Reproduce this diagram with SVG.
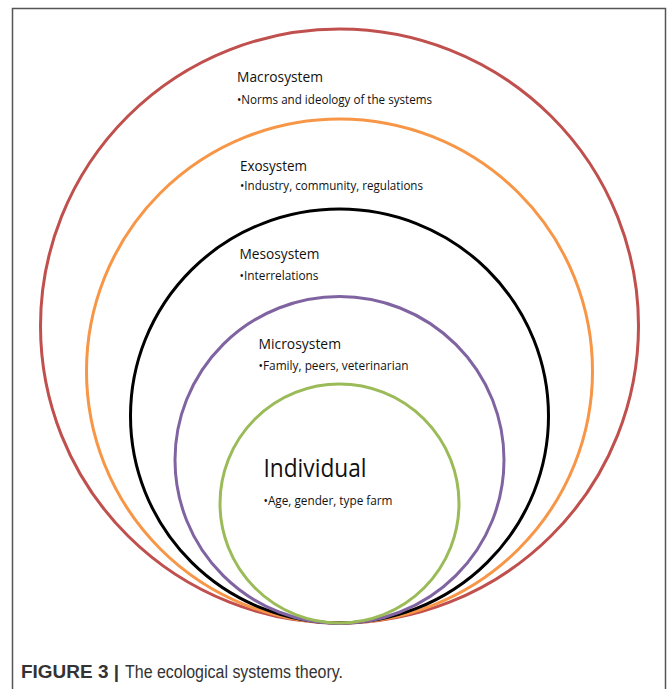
<svg xmlns="http://www.w3.org/2000/svg" width="667" height="689" viewBox="0 0 667 689">
<style>
.ring{fill:none;stroke-width:3}
.t{font-family:"Open Sans","Noto Sans","Liberation Sans",sans-serif;fill:#111}
.h{font-size:15px}
.b{font-size:12px}
.cap{font-family:"Liberation Sans Narrow","Liberation Sans",Arial,sans-serif;font-size:18px;fill:#333}
</style>
<rect width="667" height="689" fill="#fff"/>
<path d="M12.5 689 V8.5 H665.5 V689" fill="none" stroke="#555" stroke-width="1.5"/>
<g id="macrosystem">
<ellipse class="ring" cx="339.5" cy="326" rx="299" ry="297" stroke="#C0504D"/>
<text class="t h" x="237" y="82" textLength="86" lengthAdjust="spacingAndGlyphs">Macrosystem</text>
<text class="t b" x="237" y="103.5" textLength="195" lengthAdjust="spacingAndGlyphs">•Norms and ideology of the systems</text>
</g>
<g id="exosystem">
<ellipse class="ring" cx="339.5" cy="371" rx="253" ry="252" stroke="#F79646"/>
<text class="t h" x="240" y="171" textLength="67" lengthAdjust="spacingAndGlyphs">Exosystem</text>
<text class="t b" x="240" y="190" textLength="183" lengthAdjust="spacingAndGlyphs">•Industry, community, regulations</text>
</g>
<g id="mesosystem">
<ellipse class="ring" cx="339.5" cy="416" rx="209" ry="207" stroke="#000"/>
<text class="t h" x="239.5" y="258.5" textLength="80" lengthAdjust="spacingAndGlyphs">Mesosystem</text>
<text class="t b" x="239.5" y="279.5" textLength="79" lengthAdjust="spacingAndGlyphs">•Interrelations</text>
</g>
<g id="microsystem">
<ellipse class="ring" cx="339.5" cy="460" rx="164.5" ry="163.5" stroke="#8064A2"/>
<text class="t h" x="258.5" y="348.5" textLength="82.5" lengthAdjust="spacingAndGlyphs">Microsystem</text>
<text class="t b" x="258.5" y="369.5" textLength="150" lengthAdjust="spacingAndGlyphs">•Family, peers, veterinarian</text>
</g>
<g id="individual">
<ellipse class="ring" cx="339.5" cy="503.5" rx="119.5" ry="119.5" stroke="#9BBB59"/>
<text class="t" x="263.5" y="477" font-size="26" textLength="103" lengthAdjust="spacingAndGlyphs">Individual</text>
<text class="t b" x="263.5" y="504.5" textLength="129" lengthAdjust="spacingAndGlyphs">•Age, gender, type farm</text>
</g>
<g id="caption">
<text class="cap" x="21" y="678"><tspan font-weight="bold" textLength="98" lengthAdjust="spacingAndGlyphs">FIGURE 3 |</tspan><tspan x="125" textLength="218" lengthAdjust="spacingAndGlyphs">The ecological systems theory.</tspan></text>
</g>
</svg>
